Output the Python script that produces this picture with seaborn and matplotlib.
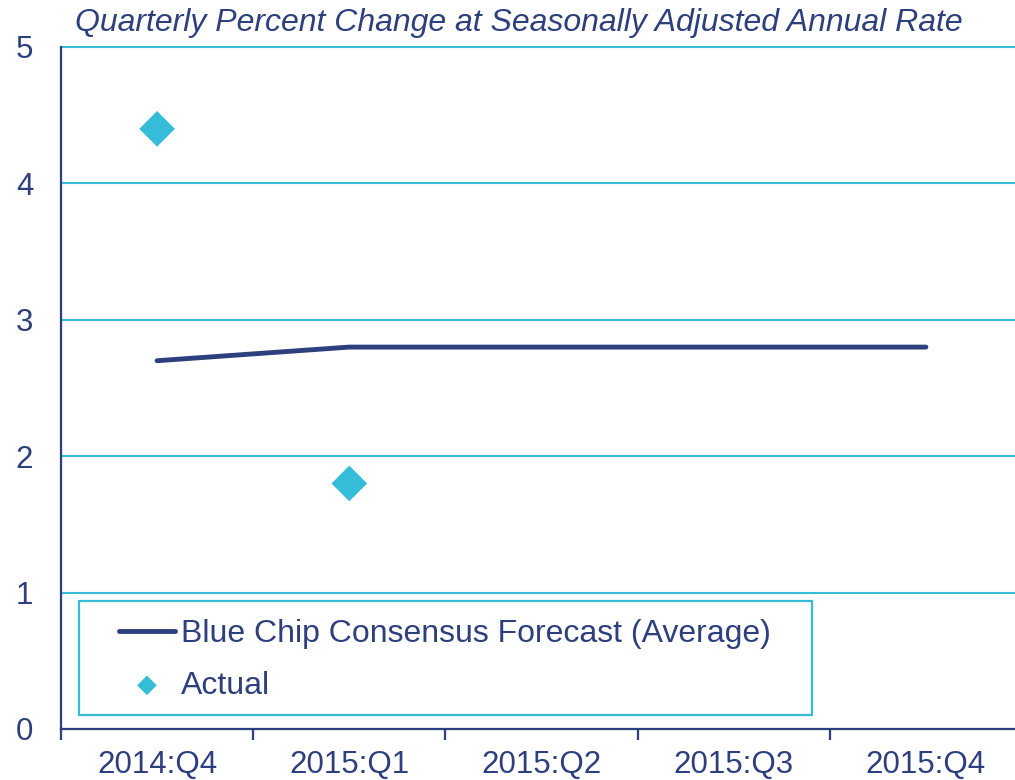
import numpy as np
import pandas as pd
import seaborn as sns
import matplotlib.pyplot as plt
from matplotlib.patches import Rectangle

sns.set_style("white")
plt.rcParams['font.family'] = ['Liberation Sans', 'DejaVu Sans']

NAVY = '#2E3F7E'
CYAN = '#35BCD9'

quarters = ['2014:Q4', '2015:Q1', '2015:Q2', '2015:Q3', '2015:Q4']
forecast = [2.7, 2.8, 2.8, 2.8, 2.8]
actual_q = ['2014:Q4', '2015:Q1']
actual = [4.4, 1.8]

df_fc = pd.DataFrame({'quarter': quarters, 'value': forecast})
df_act = pd.DataFrame({'quarter': actual_q, 'value': actual})

fig = plt.figure(figsize=(10.15, 7.8), dpi=100)
ax = fig.add_axes([61/1015, 51/780, 961/1015, 682/780])

sns.lineplot(data=df_fc, x='quarter', y='value', color=NAVY, linewidth=3.5,
             sort=False, ax=ax, label='Blue Chip Consensus Forecast (Average)')
sns.scatterplot(data=df_act, x='quarter', y='value', color=CYAN, marker='D',
                s=330, edgecolor='none', ax=ax, label='Actual')

ax.set_xlim(-0.5, 4.5)
ax.set_ylim(0, 5)
ax.set_yticks([0, 1, 2, 3, 4, 5])
ax.set_xticks(np.arange(-0.5, 5, 1), minor=True)
ax.grid(axis='y', color=CYAN, linewidth=1.5)
ax.grid(axis='x', visible=False)
ax.set_axisbelow(True)
for g in ax.get_ygridlines():
    g.set_clip_on(False)

for s in ['top', 'right']:
    ax.spines[s].set_visible(False)
for s in ['left', 'bottom']:
    ax.spines[s].set_color(NAVY)
    ax.spines[s].set_linewidth(1.6)

ax.tick_params(axis='y', which='major', length=0, pad=20, labelsize=22.5, labelcolor=NAVY)
ax.tick_params(axis='x', which='major', length=0, pad=15, labelsize=22.5, labelcolor=NAVY)
ax.tick_params(axis='x', which='minor', bottom=True, length=8, width=1.6, color=NAVY, direction='out')
ax.set_xlabel('')
ax.set_ylabel('')

fig.text(75/1015, 1 - 8/780, 'Quarterly Percent Change at Seasonally Adjusted Annual Rate',
         ha='left', va='top', fontsize=23, style='italic', color=NAVY)

leg = ax.legend(loc='upper left', bbox_to_anchor=((119-61)/961, (729-619)/682),
                frameon=False, fontsize=23, handlelength=1.75, handletextpad=0.2,
                labelspacing=0.68, borderpad=0, borderaxespad=0, markerscale=0.55)
for t in leg.get_texts():
    t.set_color(NAVY)

ax.add_patch(Rectangle(((79-61)/961, (729-715)/682), (812-79)/961, (715-601)/682,
                       transform=ax.transAxes, fill=False, edgecolor=CYAN,
                       linewidth=1.6, clip_on=False, zorder=1))

fig.savefig('out.png', dpi=100)
